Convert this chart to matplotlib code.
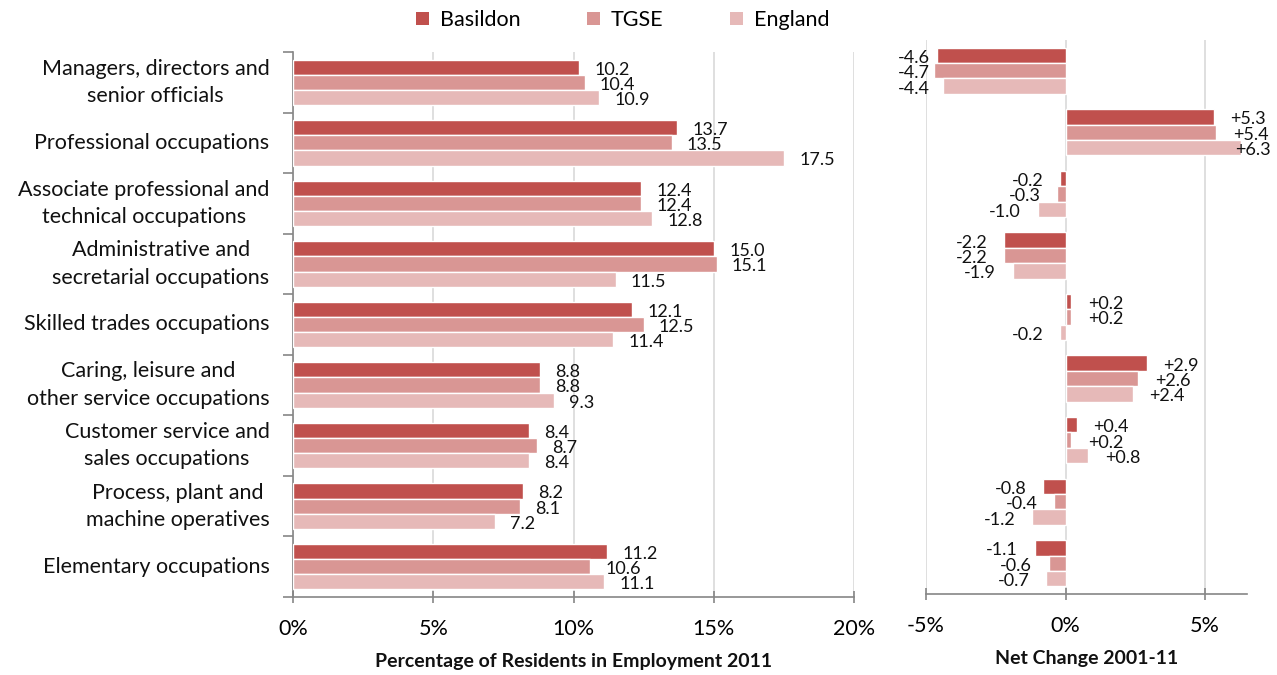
import matplotlib.pyplot as plt
import numpy as np
from matplotlib.patches import Patch

plt.rcParams['font.family'] = ['Lato', 'DejaVu Sans']

categories = [
    "Managers, directors and\nsenior officials",
    "Professional occupations",
    "Associate professional and\ntechnical occupations",
    "Administrative and\nsecretarial occupations",
    "Skilled trades occupations",
    "Caring, leisure and\nother service occupations",
    "Customer service and\nsales occupations",
    "Process, plant and\nmachine operatives",
    "Elementary occupations",
]
series = ["Basildon", "TGSE", "England"]

share_basildon = [10.2, 13.7, 12.4, 15.0, 12.1, 8.8, 8.4, 8.2, 11.2]
share_tgse = [10.4, 13.5, 12.4, 15.1, 12.5, 8.8, 8.7, 8.1, 10.6]
share_england = [10.9, 17.5, 12.8, 11.5, 11.4, 9.3, 8.4, 7.2, 11.1]

change_basildon = [-4.6, 5.3, -0.2, -2.2, 0.2, 2.9, 0.4, -0.8, -1.1]
change_tgse = [-4.7, 5.4, -0.3, -2.2, 0.2, 2.6, 0.2, -0.4, -0.6]
change_england = [-4.4, 6.3, -1.0, -1.9, -0.2, 2.4, 0.8, -1.2, -0.7]

colors = ["#C0504D", "#D99694", "#E6B9B8"]
grid_c = "#D9D9D9"
spine_c = "#868686"
text_c = "#111111"

fig = plt.figure(figsize=(12.77, 6.75), dpi=100)
ax1 = fig.add_axes([293 / 1277, 78 / 675, 561 / 1277, 545 / 675])
ax2 = fig.add_axes([926 / 1277, 81 / 675, 321 / 1277, 554 / 675])

y = np.arange(len(categories))
offsets = [-0.25, 0.0, 0.25]
bh = 0.25
lab_fs = 13

# left panel: share of residents
for vals, off, c in zip([share_basildon, share_tgse, share_england], offsets, colors):
    ax1.barh(y + off, vals, height=bh, color=c, edgecolor="white", linewidth=1, zorder=3)
    for yi, v in zip(y + off, vals):
        ax1.annotate(f"{v:.1f}", (v, yi + 0.04), xytext=(11, 0), textcoords="offset points",
                     ha="left", va="center", fontsize=lab_fs, color=text_c)

ax1.set_xlim(0, 20)
ax1.set_ylim(8.5, -0.5)
ax1.set_xticks([0, 5, 10, 15, 20])
ax1.set_xticklabels(["0%", "5%", "10%", "15%", "20%"], fontsize=15.5)
ax1.set_yticks(y)
ax1.set_yticklabels(categories, fontsize=15.5, multialignment="center", color=text_c,
                    linespacing=1.45, va="center")
ax1.set_yticks(np.arange(-0.5, 9, 1), minor=True)
ax1.tick_params(axis="y", which="major", length=0, pad=17)
ax1.tick_params(axis="y", which="minor", length=7, color=spine_c, width=1.2)
ax1.tick_params(axis="x", length=8, direction="inout", color=spine_c, width=1.2, pad=12)
ax1.grid(axis="x", color=grid_c, linewidth=1.2, zorder=0)
for s in ["top", "right"]:
    ax1.spines[s].set_visible(False)
for s in ["left", "bottom"]:
    ax1.spines[s].set_color(spine_c)
    ax1.spines[s].set_linewidth(1.2)
ax1.set_xlabel("Percentage of Residents in Employment 2011", fontsize=14,
               fontweight="bold", labelpad=10, color=text_c)

# right panel: net change
for vals, off, c in zip([change_basildon, change_tgse, change_england], offsets, colors):
    ax2.barh(y + off, vals, height=bh, color=c, edgecolor="white", linewidth=1, zorder=3)
    for yi, v in zip(y + off, vals):
        txt = f"{v:+.1f}"
        if v < 0:
            # keep labels inside the panel on the left
            ax2.annotate(txt, (max(v - 0.6, -4.87), yi + 0.04), ha="right", va="center",
                         fontsize=lab_fs, color=text_c, annotation_clip=False)
        elif v > 5.6:
            ax2.annotate(txt, (7.35, yi + 0.04), ha="right", va="center",
                         fontsize=lab_fs, color=text_c, annotation_clip=False)
        else:
            ax2.annotate(txt, (v + 0.6, yi + 0.04), ha="left", va="center",
                         fontsize=lab_fs, color=text_c, annotation_clip=False)

ax2.set_xlim(-5, 6.5)
ax2.set_ylim(8.5, -0.5)
ax2.set_xticks([-5, 0, 5])
ax2.set_xticklabels(["-5%", "0%", "5%"], fontsize=15.5)
ax2.set_yticks([])
ax2.tick_params(axis="x", length=8, direction="inout", color=spine_c, width=1.2, pad=12)
ax2.grid(axis="x", color=grid_c, linewidth=1.2, zorder=0)
for s in ["top", "right", "left"]:
    ax2.spines[s].set_visible(False)
ax2.spines["bottom"].set_color(spine_c)
ax2.spines["bottom"].set_linewidth(1.2)
ax2.set_xlabel("Net Change 2001-11", fontsize=14, fontweight="bold", labelpad=10,
               color=text_c)

handles = [Patch(facecolor=c, edgecolor="none") for c in colors]
fig.legend(handles, series, loc="center", bbox_to_anchor=(0.4875, 0.97), ncol=3,
           frameon=False, fontsize=15.5, handlelength=0.6, handleheight=0.6,
           handletextpad=0.5, columnspacing=3.1)

fig.savefig("out.png", dpi=100)
